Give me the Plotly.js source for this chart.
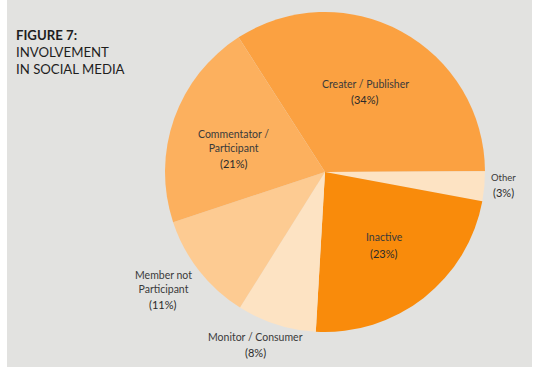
<!DOCTYPE html>
<html>
<head>
<meta charset="utf-8">
<script src="https://cdn.plot.ly/plotly-3.0.1.min.js"></script>
<style>html,body{margin:0;padding:0;background:#fff;}#chart{width:542px;height:374px;}</style>
</head>
<body>
<div id="chart"></div>
<script>
const categories = ["Creater / Publisher", "Other", "Inactive", "Monitor / Consumer", "Member not<br>Participant", "Commentator /<br>Participant"];
const shares = [34, 3, 23, 8, 11, 21];
const sliceColors = ["#FBA141", "#FDE3C3", "#F98B0B", "#FDE3C3", "#FDCB92", "#FCB05E"];
const titleLines = ["<b>FIGURE 7:</b>", "INVOLVEMENT", "IN SOCIAL MEDIA"];

const W = 542, H = 374;
const cx = 325, cy = 172, R = 160;
const FONT = "Lato, 'Open Sans', sans-serif";

// label anchor points in pixels (layout only): [x, nameY, percentY]
const labelSpots = [
  [365, 84, 100],
  [503, 177, 193],
  [384, 237, 253],
  [255, 337, 352],
  [163, 281.5, 304],
  [233.5, 140.5, 163]
];

const px = x => x / W;
const py = y => 1 - y / H;

const trace = {
  type: "pie",
  labels: categories,
  values: shares,
  sort: false,
  direction: "clockwise",
  rotation: -32.7,
  marker: { colors: sliceColors, line: { width: 0 } },
  textinfo: "none",
  hoverinfo: "none",
  showlegend: false,
  domain: { x: [px(cx - R), px(cx + R)], y: [py(cy + R), py(cy - R)] }
};

const annotations = [];
categories.forEach((c, i) => {
  const s = labelSpots[i];
  annotations.push({
    text: c, x: px(s[0]), y: py(s[1]), xref: "paper", yref: "paper",
    xanchor: "center", yanchor: "middle", showarrow: false, align: "center",
    font: { family: FONT, size: c === "Other" ? 9.5 : 10.5, color: "#3a3a3a" }
  });
  annotations.push({
    text: "(" + shares[i] + "%)", x: px(s[0]), y: py(s[2]), xref: "paper", yref: "paper",
    xanchor: "center", yanchor: "middle", showarrow: false,
    font: { family: FONT, size: 11, color: "#2a2a2a" }
  });
});
annotations.push({
  text: titleLines.join("<br>"), x: px(14), y: py(52), xref: "paper", yref: "paper",
  xanchor: "left", yanchor: "middle", align: "left", showarrow: false,
  font: { family: FONT, size: 13.2, color: "#1e1e1e" }
});

const layout = {
  width: W, height: H,
  margin: { l: 0, r: 0, t: 0, b: 0 },
  paper_bgcolor: "#ffffff",
  showlegend: false,
  annotations: annotations,
  shapes: [{
    type: "rect", xref: "paper", yref: "paper", layer: "below",
    x0: px(7), x1: px(532), y0: py(367), y1: 1,
    fillcolor: "#E2E2E0", line: { width: 0 }
  }]
};

Plotly.newPlot("chart", [trace], layout, { displayModeBar: false, staticPlot: true });
</script>
</body>
</html>
